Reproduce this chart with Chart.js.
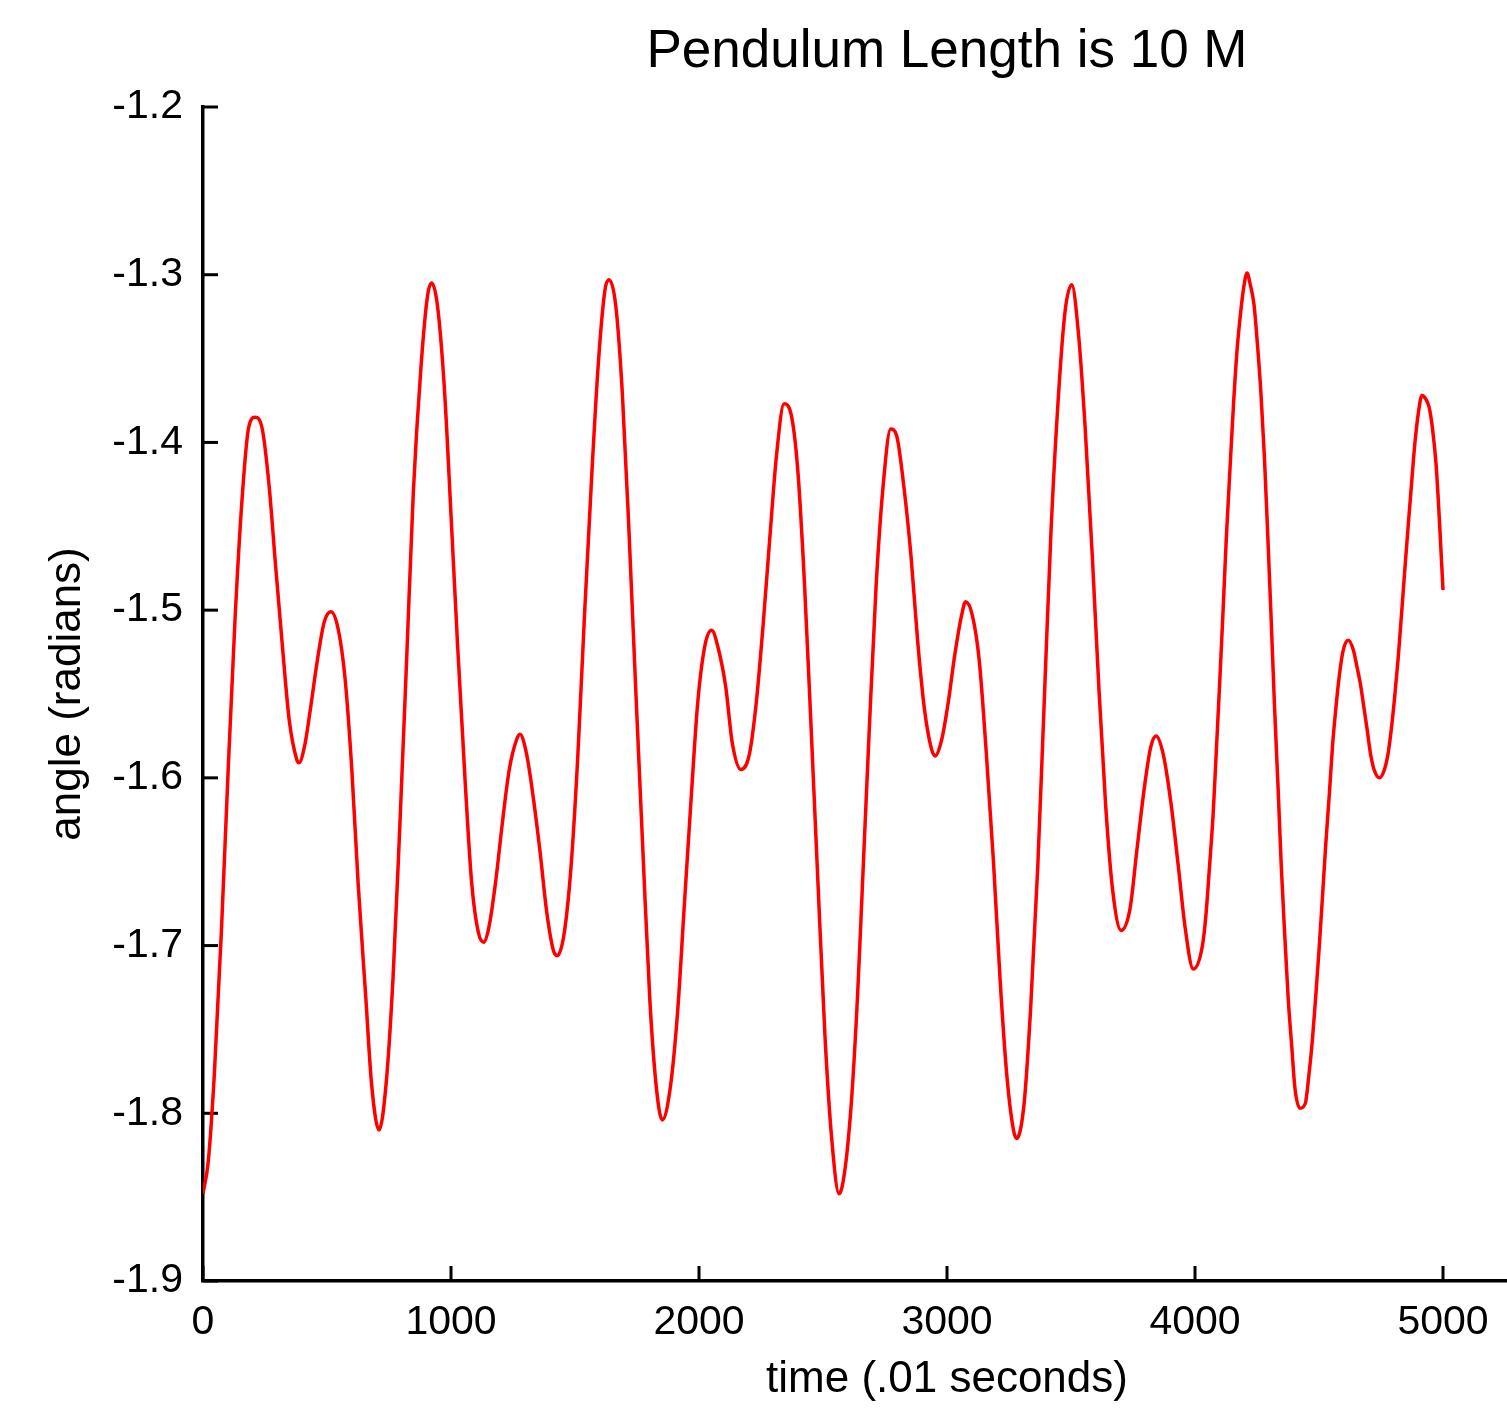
<!DOCTYPE html>
<html>
<head>
<meta charset="utf-8">
<title>Pendulum Length is 10 M</title>
<script src="https://cdn.jsdelivr.net/npm/chart.js@4.4.1/dist/chart.umd.min.js"></script>
<style>
  html, body { margin: 0; padding: 0; background: #fff; overflow: hidden; }
  #wrap { width: 1507px; height: 1410px; overflow: hidden; }
  canvas { display: block; }
</style>
</head>
<body>
<div id="wrap"><canvas id="pendulum" width="1760" height="1410"></canvas></div>
<script>
// time (.01 s) and angle (radians)
const timeSteps = [
  0, 21, 46, 74, 101, 129, 156, 183, 210, 239, 266, 293, 321, 348, 378, 387, 411, 434, 461, 489,
  516, 546, 573, 600, 626, 656, 680, 710, 738, 766, 793, 821, 848, 878, 905, 922, 945, 973, 1000, 1027,
  1057, 1083, 1110, 1132, 1153, 1180, 1207, 1235, 1265, 1278, 1305, 1332, 1359, 1386, 1413, 1429, 1457, 1484, 1511, 1538,
  1567, 1594, 1621, 1637, 1664, 1691, 1718, 1746, 1776, 1802, 1829, 1852, 1883, 1913, 1940, 1968, 1995, 2024, 2051, 2078,
  2108, 2134, 2169, 2203, 2231, 2259, 2286, 2313, 2343, 2371, 2398, 2425, 2452, 2481, 2508, 2535, 2565, 2589, 2616, 2640,
  2659, 2686, 2714, 2743, 2773, 2797, 2825, 2855, 2882, 2909, 2936, 2952, 2979, 3005, 3032, 3059, 3075, 3102, 3130, 3157,
  3187, 3214, 3241, 3268, 3281, 3311, 3337, 3366, 3393, 3419, 3449, 3476, 3503, 3530, 3557, 3586, 3613, 3640, 3668, 3702,
  3738, 3765, 3793, 3821, 3843, 3872, 3903, 3933, 3960, 3993, 4030, 4044, 4058, 4073, 4086, 4100, 4113, 4126, 4141, 4155,
  4169, 4183, 4196, 4210, 4223, 4238, 4251, 4266, 4280, 4293, 4307, 4320, 4335, 4348, 4362, 4376, 4390, 4403, 4423, 4445,
  4458, 4473, 4487, 4500, 4514, 4528, 4542, 4555, 4569, 4582, 4596, 4618, 4639, 4652, 4667, 4680, 4694, 4707, 4722, 4744,
  4764, 4777, 4790, 4805, 4819, 4832, 4846, 4860, 4874, 4887, 4901, 4915, 4930, 4944, 4957, 4972, 4985, 5000
];
const angles = [
  -1.848, -1.829, -1.776, -1.692, -1.597, -1.506, -1.437, -1.392, -1.385, -1.392, -1.425, -1.474, -1.523, -1.566, -1.589, -1.591, -1.580, -1.558, -1.530, -1.507,
  -1.501, -1.512, -1.541, -1.595, -1.664, -1.730, -1.783, -1.810, -1.783, -1.720, -1.631, -1.530, -1.430, -1.357, -1.313, -1.305, -1.318, -1.367, -1.443, -1.522,
  -1.602, -1.662, -1.692, -1.698, -1.689, -1.662, -1.627, -1.595, -1.577, -1.574, -1.586, -1.612, -1.644, -1.680, -1.703, -1.706, -1.692, -1.653, -1.588, -1.504,
  -1.421, -1.353, -1.309, -1.303, -1.318, -1.371, -1.454, -1.551, -1.651, -1.733, -1.786, -1.804, -1.786, -1.741, -1.678, -1.613, -1.555, -1.521, -1.512, -1.523,
  -1.546, -1.579, -1.595, -1.586, -1.555, -1.508, -1.456, -1.407, -1.377, -1.383, -1.416, -1.483, -1.570, -1.667, -1.754, -1.815, -1.848, -1.833, -1.790, -1.728,
  -1.664, -1.573, -1.486, -1.425, -1.392, -1.396, -1.425, -1.468, -1.519, -1.559, -1.582, -1.587, -1.577, -1.555, -1.526, -1.503, -1.495, -1.503, -1.530, -1.582,
  -1.649, -1.720, -1.777, -1.810, -1.815, -1.794, -1.738, -1.653, -1.551, -1.454, -1.373, -1.322, -1.306, -1.335, -1.391, -1.468, -1.548, -1.617, -1.667, -1.691,
  -1.678, -1.644, -1.609, -1.582, -1.575, -1.586, -1.615, -1.653, -1.689, -1.714, -1.700, -1.682, -1.654, -1.622, -1.584, -1.542, -1.501, -1.458, -1.416, -1.378,
  -1.346, -1.324, -1.308, -1.299, -1.306, -1.318, -1.340, -1.371, -1.409, -1.454, -1.505, -1.555, -1.606, -1.653, -1.694, -1.732, -1.760, -1.785, -1.797, -1.794,
  -1.779, -1.757, -1.730, -1.703, -1.671, -1.638, -1.609, -1.580, -1.557, -1.539, -1.525, -1.518, -1.524, -1.533, -1.544, -1.557, -1.571, -1.585, -1.595, -1.600,
  -1.595, -1.587, -1.573, -1.552, -1.529, -1.504, -1.476, -1.449, -1.423, -1.400, -1.382, -1.372, -1.374, -1.379, -1.391, -1.413, -1.445, -1.488
];

// axis ranges and tick steps (the axis runs past the cropped right edge)
const xRange = [0, 6000];
const xStep = 1000;
const yRange = [-1.9, -1.2];
const yStep = 0.1;

Chart.defaults.font.family = "'Liberation Sans', Arial, sans-serif";
Chart.defaults.color = '#000';

// MATLAB style: tick marks point into the plot
const inwardTicks = {
    id: 'inwardTicks',
    beforeDatasetsDraw(chart) {
        const { ctx, chartArea, scales } = chart;
        const len = 15;
        ctx.save();
        ctx.strokeStyle = '#000';
        ctx.lineWidth = 3;
        scales.y.ticks.forEach(t => {
            const py = scales.y.getPixelForValue(t.value);
            ctx.beginPath();
            ctx.moveTo(chartArea.left, py);
            ctx.lineTo(chartArea.left + len, py);
            ctx.stroke();
        });
        scales.x.ticks.forEach(t => {
            const px = scales.x.getPixelForValue(t.value);
            ctx.beginPath();
            ctx.moveTo(px, chartArea.bottom);
            ctx.lineTo(px, chartArea.bottom - len);
            ctx.stroke();
        });
        ctx.restore();
    }
};

const points = timeSteps.map((t, i) => ({ x: t, y: angles[i] }));

new Chart(document.getElementById('pendulum'), {
    type: 'line',
    data: {
        datasets: [{
            data: points,
            borderColor: '#ff0000',
            borderWidth: 3.5,
            pointRadius: 0,
            fill: false,
            cubicInterpolationMode: 'monotone'
        }]
    },
    options: {
        responsive: false,
        animation: false,
        layout: { padding: { left: 0, right: 69, top: 0, bottom: 0 } },
        plugins: {
            legend: { display: false },
            tooltip: { enabled: false },
            title: {
                display: true,
                text: 'Pendulum Length is 10 M',
                fullSize: false,
                font: { size: 53, weight: 'normal' },
                color: '#000',
                padding: { top: 21, bottom: 22.4 }
            }
        },
        scales: {
            x: {
                type: 'linear',
                min: xRange[0],
                max: xRange[1],
                ticks: {
                    stepSize: xStep,
                    font: { size: 41 },
                    color: '#000',
                    padding: 17,
                    maxRotation: 0,
                    callback: v => String(v)
                },
                grid: { drawOnChartArea: false, drawTicks: false },
                border: { color: '#000', width: 3.5 },
                title: {
                    display: true,
                    text: 'time (.01 seconds)',
                    font: { size: 44 },
                    color: '#000',
                    padding: { top: 0, bottom: 4 }
                },
                afterFit(scale) { scale.height = 129; }
            },
            y: {
                type: 'linear',
                min: yRange[0],
                max: yRange[1],
                ticks: {
                    stepSize: yStep,
                    font: { size: 41 },
                    color: '#000',
                    padding: 20,
                    callback: v => Number(v).toFixed(1)
                },
                grid: { drawOnChartArea: false, drawTicks: false },
                border: { color: '#000', width: 3.5 },
                title: {
                    display: true,
                    text: 'angle (radians)',
                    font: { size: 44 },
                    color: '#000',
                    padding: { top: 41, bottom: 0 }
                },
                afterFit(scale) { scale.width = 203; }
            }
        }
    },
    plugins: [inwardTicks]
});
</script>
</body>
</html>
